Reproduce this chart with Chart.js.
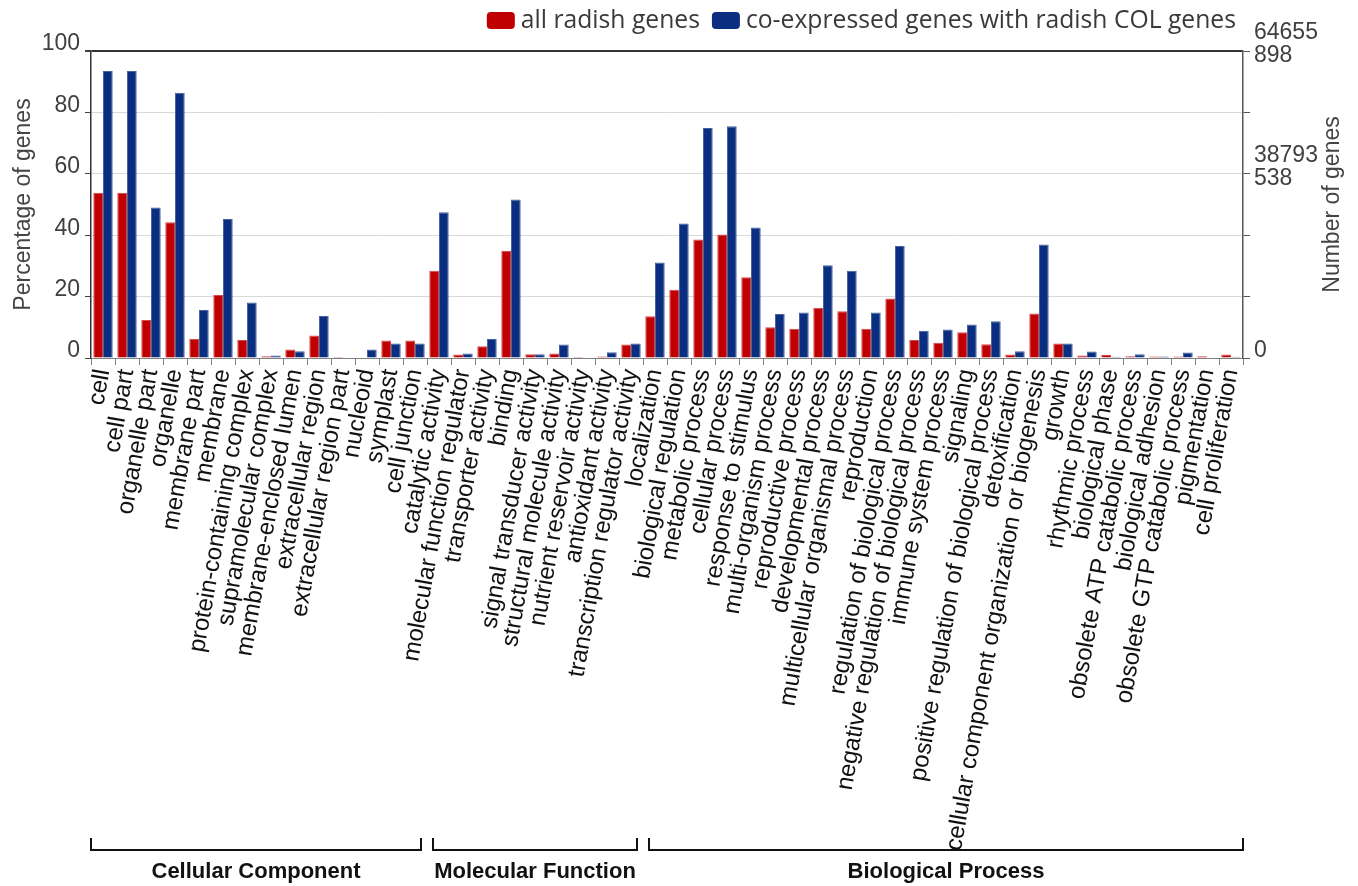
<!DOCTYPE html>
<html>
<head>
<meta charset="utf-8">
<title>GO classification of radish genes</title>
<script src="https://cdn.jsdelivr.net/npm/chart.js@4.4.1/dist/chart.umd.min.js"></script>
<style>
  html, body { margin: 0; padding: 0; background: #ffffff; }
  #wrap { width: 1358px; height: 886px; position: relative; }
</style>
</head>
<body>
<div id="wrap"><canvas id="goChart" width="1358" height="886"></canvas></div>
<script>
// GO terms, in display order
const categories = [
  'cell', 'cell part', 'organelle part', 'organelle', 'membrane part', 'membrane',
  'protein-containing complex', 'supramolecular complex', 'membrane-enclosed lumen',
  'extracellular region', 'extracellular region part', 'nucleoid', 'symplast', 'cell junction',
  'catalytic activity', 'molecular function regulator', 'transporter activity', 'binding',
  'signal transducer activity', 'structural molecule activity', 'nutrient reservoir activity',
  'antioxidant activity', 'transcription regulator activity',
  'localization', 'biological regulation', 'metabolic process', 'cellular process',
  'response to stimulus', 'multi-organism process', 'reproductive process',
  'developmental process', 'multicellular organismal process', 'reproduction',
  'regulation of biological process', 'negative regulation of biological process',
  'immune system process', 'signaling', 'positive regulation of biological process',
  'detoxification', 'cellular component organization or biogenesis', 'growth',
  'rhythmic process', 'biological phase', 'obsolete ATP catabolic process',
  'biological adhesion', 'obsolete GTP catabolic process', 'pigmentation', 'cell proliferation'
];

// Percentage of genes annotated to each term
const allRadishPct = [
  53.8, 53.8, 12.4, 44.2, 6.3, 20.5, 5.9, 0.6, 2.8, 7.3, 0.3, 0.2, 5.7, 5.7,
  28.4, 1.1, 3.8, 34.9, 1.2, 1.5, 0.3, 0.5, 4.4,
  13.6, 22.2, 38.6, 40.2, 26.3, 10.0, 9.5, 16.4, 15.2, 9.5, 19.4, 5.9, 5.0, 8.4, 4.5,
  1.1, 14.5, 4.7, 0.8, 1.0, 0.6, 0.5, 0.5, 0.6, 1.1
];
const coExpressedPct = [
  93.5, 93.5, 49.0, 86.4, 15.6, 45.3, 18.1, 0.8, 2.2, 13.7, 0.0, 2.8, 4.7, 4.7,
  47.5, 1.5, 6.2, 51.6, 1.2, 4.4, 0.2, 1.9, 4.7,
  31.1, 43.8, 74.9, 75.5, 42.5, 14.3, 14.8, 30.2, 28.4, 14.8, 36.5, 8.9, 9.3, 10.9, 12.0,
  2.2, 37.0, 4.7, 2.1, 0.4, 1.2, 0.5, 1.8, 0.2, 0.4
];

const seriesNames = ['all radish genes', 'co-expressed genes with radish COL genes'];

// GO namespaces and how many consecutive terms each covers
const groupNames = ['Cellular Component', 'Molecular Function', 'Biological Process'];
const groupSizes = [14, 9, 25];

// Right-hand axis: gene counts shown at selected percentage positions
const rightTickValues = [0, 60, 100];
const rightTickAllCounts = ['0', '38793', '64655'];
const rightTickCoCounts = ['', '538', '898'];

const RED = '#C00000';
const BLUE = '#0B2F80';
const LABEL_FONT = 'Liberation Sans, Arial, sans-serif';

// Extra drawing: legend, right axis title, namespace brackets
const decorPlugin = {
  id: 'goDecor',
  afterDraw(chart) {
    const ctx = chart.ctx;
    const x = chart.scales.x;
    const area = chart.chartArea;
    ctx.save();

    // Legend, right-aligned above the plot
    ctx.font = '24.7px "Open Sans", sans-serif';
    ctx.textBaseline = 'alphabetic';
    ctx.textAlign = 'left';
    const boxW = 28, boxH = 17, gap = 6, itemGap = 12;
    const ds = chart.data.datasets;
    let total = 0;
    const widths = ds.map(d => ctx.measureText(d.label).width);
    widths.forEach((w, i) => { total += boxW + gap + w + (i ? itemGap : 0); });
    let cx = 1236 - total;
    ds.forEach((d, i) => {
      if (i) cx += itemGap;
      ctx.fillStyle = d.backgroundColor;
      ctx.beginPath();
      ctx.roundRect(cx, 12, boxW, boxH, 4);
      ctx.fill();
      cx += boxW + gap;
      ctx.fillStyle = '#3a3a3a';
      ctx.fillText(d.label, cx, 28);
      cx += widths[i];
    });

    // Right axis title, reading bottom to top
    ctx.font = '23px ' + LABEL_FONT;
    ctx.fillStyle = '#444444';
    ctx.textAlign = 'center';
    ctx.textBaseline = 'middle';
    ctx.translate(1333, (area.top + area.bottom) / 2);
    ctx.rotate(-Math.PI / 2);
    ctx.fillText('Number of genes', 0, 0);
    ctx.setTransform(1, 0, 0, 1, 0, 0);

    // Namespace brackets under the rotated term labels
    const half = (x.getPixelForValue(1) - x.getPixelForValue(0)) / 2;
    const n = categories.length;
    let start = 0;
    ctx.strokeStyle = '#111111';
    ctx.lineWidth = 2;
    ctx.font = 'bold 22px ' + LABEL_FONT;
    ctx.fillStyle = '#111111';
    groupSizes.forEach((size, g) => {
      const end = start + size;
      const l = start === 0 ? x.left : x.getPixelForValue(start) - half + 6;
      const r = end === n ? x.right : x.getPixelForValue(end) - half - 6;
      ctx.beginPath();
      ctx.moveTo(l, 838);
      ctx.lineTo(l, 850);
      ctx.lineTo(r, 850);
      ctx.lineTo(r, 838);
      ctx.stroke();
      ctx.fillText(groupNames[g], (l + r) / 2, 872);
      start = end;
    });
    ctx.restore();
  }
};

new Chart(document.getElementById('goChart'), {
  type: 'bar',
  data: {
    labels: categories,
    datasets: [
      {
        label: seriesNames[0],
        data: allRadishPct,
        backgroundColor: RED,
        borderColor: '#d44848',
        borderWidth: 1,
        yAxisID: 'y'
      },
      {
        label: seriesNames[1],
        data: coExpressedPct,
        backgroundColor: BLUE,
        borderColor: '#4862a0',
        borderWidth: 1,
        yAxisID: 'y'
      }
    ]
  },
  options: {
    responsive: false,
    animation: false,
    devicePixelRatio: 1,
    categoryPercentage: 0.81,
    barPercentage: 1.0,
    layout: { padding: { top: 51, left: 0, right: 0, bottom: 0 } },
    plugins: {
      legend: { display: false },
      tooltip: { enabled: false }
    },
    scales: {
      x: {
        type: 'category',
        offset: true,
        grid: {
          offset: true,
          drawOnChartArea: false,
          drawTicks: true,
          tickLength: 7,
          color: '#808080'
        },
        border: { color: '#808080', width: 1 },
        ticks: {
          autoSkip: false,
          minRotation: 80,
          maxRotation: 80,
          padding: 2,
          color: '#111111',
          font: { family: LABEL_FONT, size: 24 }
        },
        afterFit(scale) {
          scale.height = 528;
          scale.paddingLeft = 0;
          scale.paddingRight = 0;
        }
      },
      y: {
        position: 'left',
        min: 0,
        max: 100,
        ticks: {
          stepSize: 20,
          padding: 5,
          labelOffset: -7,
          color: '#404040',
          font: { family: LABEL_FONT, size: 23 }
        },
        grid: {
          color: ctx => (ctx.tick && ctx.tick.value === 100 ? '#333333' : '#d9d9d9'),
          lineWidth: ctx => (ctx.tick && ctx.tick.value === 100 ? 2 : 1),
          tickColor: '#404040',
          tickLength: 6
        },
        border: { color: '#333333', width: 1.5 },
        title: {
          display: true,
          text: 'Percentage of genes',
          color: '#444444',
          font: { family: LABEL_FONT, size: 23 },
          padding: { top: 10, bottom: 0 }
        },
        afterFit(scale) {
          scale.width = 91;
          scale.paddingTop = 0;
          scale.paddingBottom = 0;
        }
      },
      y1: {
        position: 'right',
        min: 0,
        max: 100,
        ticks: {
          stepSize: 20,
          padding: 4,
          labelOffset: -7,
          color: '#404040',
          font: { family: LABEL_FONT, size: 23, lineHeight: 1.0 },
          callback(value) {
            const k = rightTickValues.indexOf(value);
            if (k < 0) return '';
            return rightTickCoCounts[k] ? [rightTickAllCounts[k], rightTickCoCounts[k]] : rightTickAllCounts[k];
          }
        },
        grid: {
          drawOnChartArea: false,
          tickColor: '#555555',
          tickLength: 7
        },
        border: { color: '#555555', width: 1.5 },
        afterFit(scale) {
          scale.width = 115;
          scale.paddingTop = 0;
          scale.paddingBottom = 0;
        }
      }
    }
  },
  plugins: [decorPlugin]
});
</script>
</body>
</html>
